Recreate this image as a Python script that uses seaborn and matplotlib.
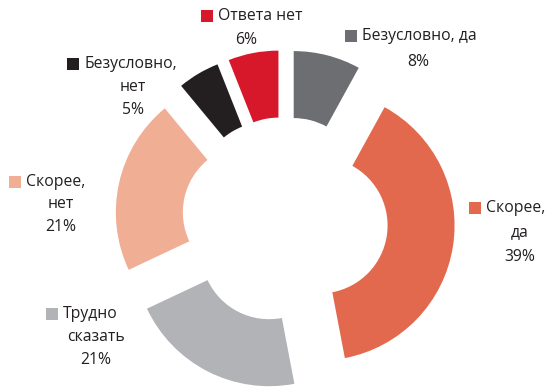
import matplotlib
matplotlib.use("Agg")
import matplotlib.pyplot as plt
import seaborn as sns

# Survey answers, clockwise from 12 o'clock
categories = ["Безусловно, да", "Скорее, да", "Трудно сказать",
              "Скорее, нет", "Безусловно, нет", "Ответа нет"]
values = [8, 39, 21, 21, 5, 6]
colors = ["#6d6e71", "#e2694d", "#b1b3b6", "#f0ae95", "#231f20", "#d7182a"]

# Label text split into lines (category lines, then the percentage)
label_lines = [
    ["Безусловно, да"],
    ["Скорее,", "да"],
    ["Трудно", "сказать"],
    ["Скорее,", "нет"],
    ["Безусловно,", "нет"],
    ["Ответа нет"],
]

sns.set_theme(style="white")
plt.rcParams["font.family"] = ["Open Sans", "DejaVu Sans"]

W, H = 554, 387
fig = plt.figure(figsize=(W / 100, H / 100), dpi=100)
ax = fig.add_axes([0, 0, 1, 1])

R = 135
ax.pie(values, colors=colors, startangle=90, counterclock=False,
       radius=R, center=(285, H - 220), explode=[35] * len(values),
       wedgeprops=dict(width=67, linewidth=0), frame=True)
ax.set_xlim(0, W)
ax.set_ylim(0, H)
ax.set_aspect("equal")
ax.axis("off")

txt_color = "#231f20"
fs = 11.3

# (square left x, first-line y, block center x for lower lines, line step)
layout = [
    (345, 36, 418, 26),
    (469, 208, 520, 24.5),
    (46, 314, 96, 23),
    (9, 182, 61, 22.5),
    (67, 64, 133, 23),
    (201, 16, 246, 24),
]

def py(y):
    return H - y

for lines, val, col, (sx, y0, cx, step) in zip(label_lines, values, colors, layout):
    ax.add_patch(plt.Rectangle((sx, py(y0) - 6), 12, 12, color=col, lw=0))
    ax.text(sx + 17, py(y0), lines[0], ha="left", va="center",
            fontsize=fs, color=txt_color)
    y = y0
    for extra in lines[1:]:
        y += step
        ax.text(cx, py(y), extra, ha="center", va="center",
                fontsize=fs, color=txt_color)
    y += step
    ax.text(cx, py(y), f"{val}%", ha="center", va="center",
            fontsize=fs, color=txt_color)

fig.savefig("out.png", dpi=100)
